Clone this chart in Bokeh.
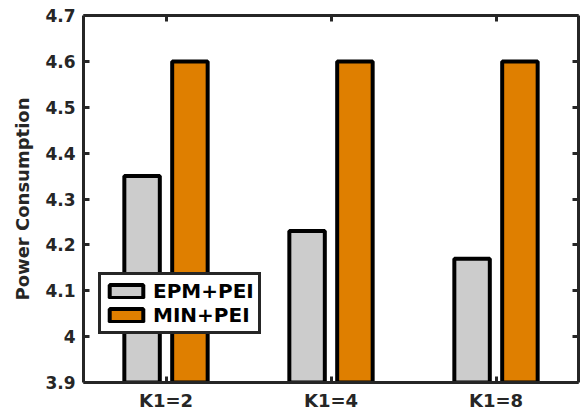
from bokeh.plotting import figure
from bokeh.models import (FactorRange, Range1d, LinearAxis, CategoricalAxis,
                          Legend, LegendItem, ColumnDataSource, FixedTicker,
                          CustomLabelingPolicy)
from bokeh.transform import dodge
from bokeh.embed import file_html
from bokeh.resources import INLINE

categories = ["K1=2", "K1=4", "K1=8"]
epm_pei = [4.35, 4.23, 4.17]
min_pei = [4.60, 4.60, 4.60]
series_names = ["EPM+PEI", "MIN+PEI"]
y_ticks = [3.9, 4.0, 4.1, 4.2, 4.3, 4.4, 4.5, 4.6, 4.7]
y_tick_labels = ["3.9", "4", "4.1", "4.2", "4.3", "4.4", "4.5", "4.6", "4.7"]

AX = "#262626"
FONT = "DejaVu Sans"
GREY = "#cccccc"
ORANGE = "#df7f00"

src = ColumnDataSource(dict(cat=categories, epm=epm_pei, mn=min_pei,
                            base=[3.8] * len(categories)))

p = figure(width=582, height=413, x_range=FactorRange(*categories),
           y_range=Range1d(3.9, 4.7), output_backend="svg",
           toolbar_location=None, min_border_left=83, min_border_top=15,
           min_border_right=3, min_border_bottom=30)
p.grid.visible = False
p.outline_line_color = None
p.background_fill_color = "white"
p.border_fill_color = "white"

r1 = p.vbar(x=dodge("cat", -0.145, range=p.x_range), top="epm", bottom="base",
            width=0.215, source=src, fill_color=GREY, line_color="black",
            line_width=4)
r2 = p.vbar(x=dodge("cat", 0.145, range=p.x_range), top="mn", bottom="base",
            width=0.215, source=src, fill_color=ORANGE, line_color="black",
            line_width=4)

# left axis
ya = p.yaxis[0]
ya.ticker = FixedTicker(ticks=y_ticks)
ya.major_label_overrides = {t: l for t, l in zip(y_ticks, y_tick_labels)}
ya.axis_label = "Power Consumption"
ya.axis_label_text_font = FONT
ya.axis_label_text_font_style = "bold"
ya.axis_label_text_font_size = "18px"
ya.axis_label_text_color = AX
ya.axis_label_standoff = 9
ya.major_label_standoff = 8

xa = p.xaxis[0]
xa.major_label_standoff = 7

for ax in (ya, xa):
    ax.axis_line_color = AX
    ax.axis_line_width = 3
    ax.major_tick_line_color = AX
    ax.major_tick_line_width = 3
    ax.major_tick_in = 6
    ax.major_tick_out = 0
    ax.minor_tick_line_color = None
    ax.major_label_text_font = FONT
    ax.major_label_text_font_style = "bold"
    ax.major_label_text_color = AX
ya.major_label_text_font_size = "17px"
xa.major_label_text_font_size = "18px"

hide_all = CustomLabelingPolicy(code="""
for (const i of indices) { indices.unset(i) }
return indices
""")

# right and top axes (box)
ra = LinearAxis(ticker=FixedTicker(ticks=y_ticks), major_label_policy=hide_all,
                axis_line_color=AX, axis_line_width=3, major_tick_line_color=AX,
                major_tick_line_width=3, major_tick_in=6, major_tick_out=0,
                minor_tick_line_color=None, major_label_standoff=0,
                major_label_text_font_size="1px")
p.add_layout(ra, "right")
ta = CategoricalAxis(major_label_policy=hide_all, axis_line_color=AX,
                     axis_line_width=3, major_tick_line_color=AX,
                     major_tick_line_width=3, major_tick_in=6, major_tick_out=0,
                     major_label_standoff=0, major_label_text_font_size="1px")
p.add_layout(ta, "above")

legend = Legend(items=[LegendItem(label=series_names[0], renderers=[r1]),
                       LegendItem(label=series_names[1], renderers=[r2])],
                location=(15, 48), label_text_font=FONT,
                label_text_font_style="bold", label_text_font_size="20px",
                label_text_color="black", glyph_width=42, glyph_height=16,
                label_height=16, label_standoff=6, spacing=-3, padding=4,
                margin=0, border_line_color=AX, border_line_width=3,
                border_line_alpha=1.0,
                background_fill_color="white", background_fill_alpha=1)
p.add_layout(legend, "center")

open("out.html", "w").write(file_html(p, INLINE))
